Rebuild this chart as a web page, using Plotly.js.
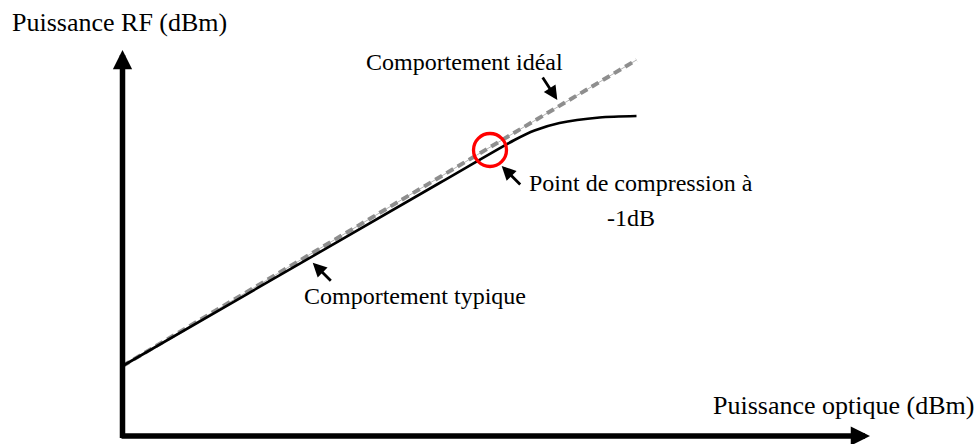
<!DOCTYPE html>
<html>
<head>
<meta charset="utf-8">
<script src="https://cdn.plot.ly/plotly-3.0.1.min.js"></script>
<style>
  html, body { margin: 0; padding: 0; background: #fff; }
  #plot { width: 980px; height: 444px; }
</style>
</head>
<body>
<div id="plot"></div>
<script>
// schematic units: 1 unit = 10 px, origin at the axes corner
const idealX = [0, 51.4];
const idealY = [7.0, 37.6];

const typiqueX = [0, 31.7, 39.2, 41.2, 43.7, 47.7, 51.4];
const typiqueY = [7.0, 25.3, 29.6, 30.55, 31.3, 31.85, 32.0];

const compressionX = [36.75];
const compressionY = [28.6];

// labels: [text, x, y, anchor]
const labels = [
    ["Comportement idéal", 34.2, 37.4, "center"],
    ["Point de compression à", 40.45, 25.35, "left"],
    ["-1dB", 50.85, 21.8, "center"],
    ["Comportement typique", 29.25, 14.0, "center"]
];
const axisLabels = [
    ["Puissance RF (dBm)", -0.3, 41.4],
    ["Puissance optique (dBm)", 72.13, 3.1]
];

// pointer arrows: [headX, headY, tailX, tailY]
const pointers = [
    [43.48, 33.6, 41.92, 36.0],
    [37.92, 27.0, 39.92, 25.0],
    [19.02, 17.33, 20.98, 15.38]
];
// axis arrows: [headX, headY, tailX, tailY]
const axes = [
    [0, 38.6, 0, -0.35],
    [74.75, 0, -0.25, 0]
];

const serif = "Liberation Serif";

const traces = [
    {
        x: idealX, y: idealY, type: "scatter", mode: "lines",
        line: { color: "#b4b4b4", width: 1 }, hoverinfo: "skip"
    },
    {
        x: idealX, y: idealY, type: "scatter", mode: "lines",
        line: { color: "#8e8e8e", width: 4, dash: "8px,5px" }, hoverinfo: "skip"
    },
    {
        x: typiqueX, y: typiqueY, type: "scatter", mode: "lines",
        line: { color: "#000", width: 2.6, shape: "spline", smoothing: 0.8 }
    },
    {
        x: compressionX, y: compressionY, type: "scatter", mode: "markers",
        marker: { symbol: "circle-open", size: 33, color: "red", line: { color: "red", width: 3.3 } }
    }
];

const annotations = [];
labels.forEach(l => annotations.push({
    x: l[1], y: l[2], text: l[0], showarrow: false,
    xanchor: l[3], yanchor: "middle",
    font: { family: serif, size: 24, color: "#000" }
}));
axisLabels.forEach(l => annotations.push({
    x: l[1], y: l[2], text: l[0], showarrow: false,
    xanchor: "center", yanchor: "middle",
    font: { family: serif, size: 26, color: "#000" }
}));
pointers.forEach(p => annotations.push({
    x: p[0], y: p[1], ax: p[2], ay: p[3], axref: "x", ayref: "y",
    text: "", showarrow: true, arrowhead: 2, arrowsize: 1,
    arrowwidth: 2.8, arrowcolor: "#000"
}));
axes.forEach(p => annotations.push({
    x: p[0], y: p[1], ax: p[2], ay: p[3], axref: "x", ayref: "y",
    text: "", showarrow: true, arrowhead: 2, arrowsize: 0.7,
    arrowwidth: 5.5, arrowcolor: "#000"
}));

const layout = {
    width: 980, height: 444,
    margin: { l: 0, r: 0, t: 0, b: 0 },
    paper_bgcolor: "#fff", plot_bgcolor: "#fff",
    showlegend: false,
    font: { family: serif },
    xaxis: { range: [-12.25, 85.75], visible: false, fixedrange: true },
    yaxis: { range: [-0.8, 43.6], visible: false, fixedrange: true },
    annotations: annotations
};

Plotly.newPlot("plot", traces, layout, { staticPlot: true });
</script>
</body>
</html>
